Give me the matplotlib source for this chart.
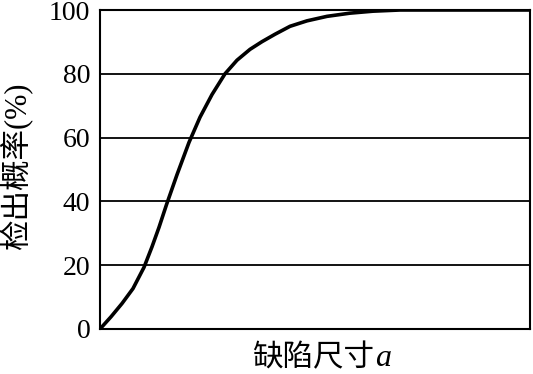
import matplotlib
matplotlib.use('Agg')
import matplotlib.pyplot as plt

# defect size (relative, 0-100 across the axis) and detection probability (%)
defect_size = [0, 2.56, 5.12, 7.67, 10.23, 12.09, 13.72, 15.47, 17.91, 20.70,
               23.26, 26.05, 29.07, 31.86, 34.88, 37.67, 40.70, 44.19,
               48.14, 52.79, 58.14, 63.49, 69.77, 100]
detect_prob = [0, 3.83, 8.0, 12.67, 19.33, 25.76, 31.86, 39.0, 48.39, 58.5,
               66.4, 73.5, 80, 84.26, 87.66, 90.07, 92.4, 94.89,
               96.60, 98.01, 99.01, 99.63, 100, 100]
y_ticks = [0, 20, 40, 60, 80, 100]

plt.rcParams['font.family'] = ['Liberation Serif', 'Noto Sans CJK SC']

W, H = 533, 374
fig = plt.figure(figsize=(W / 100, H / 100), dpi=100)
ax = fig.add_axes([100 / W, 1 - 329 / H, 430 / W, 319 / H])

for v in y_ticks[1:-1]:
    ax.axhline(v, color='black', lw=1.3)
ax.plot(defect_size, detect_prob, color='black', lw=2.6,
        solid_capstyle='round', solid_joinstyle='round')

ax.set_xlim(0, 100)
ax.set_ylim(0, 100)
ax.set_xticks([])
ax.set_yticks(y_ticks)
ax.tick_params(axis='y', length=0, pad=7, labelsize=20)
for s in ax.spines.values():
    s.set_linewidth(1.5)

# axis titles
fig.text(17 / W, 1 - 165 / H, '检出概率(%)', rotation=90, fontsize=22,
         ha='center', va='center')
fig.text(374 / W, 1 - 366 / H, '缺陷尺寸', fontsize=22, ha='right', va='baseline',
         family='Noto Sans CJK SC')
fig.text(375 / W, 1 - 366 / H, 'a', fontsize=23, ha='left', va='baseline',
         style='italic', family='Liberation Serif')

fig.savefig('out.png', dpi=100)
